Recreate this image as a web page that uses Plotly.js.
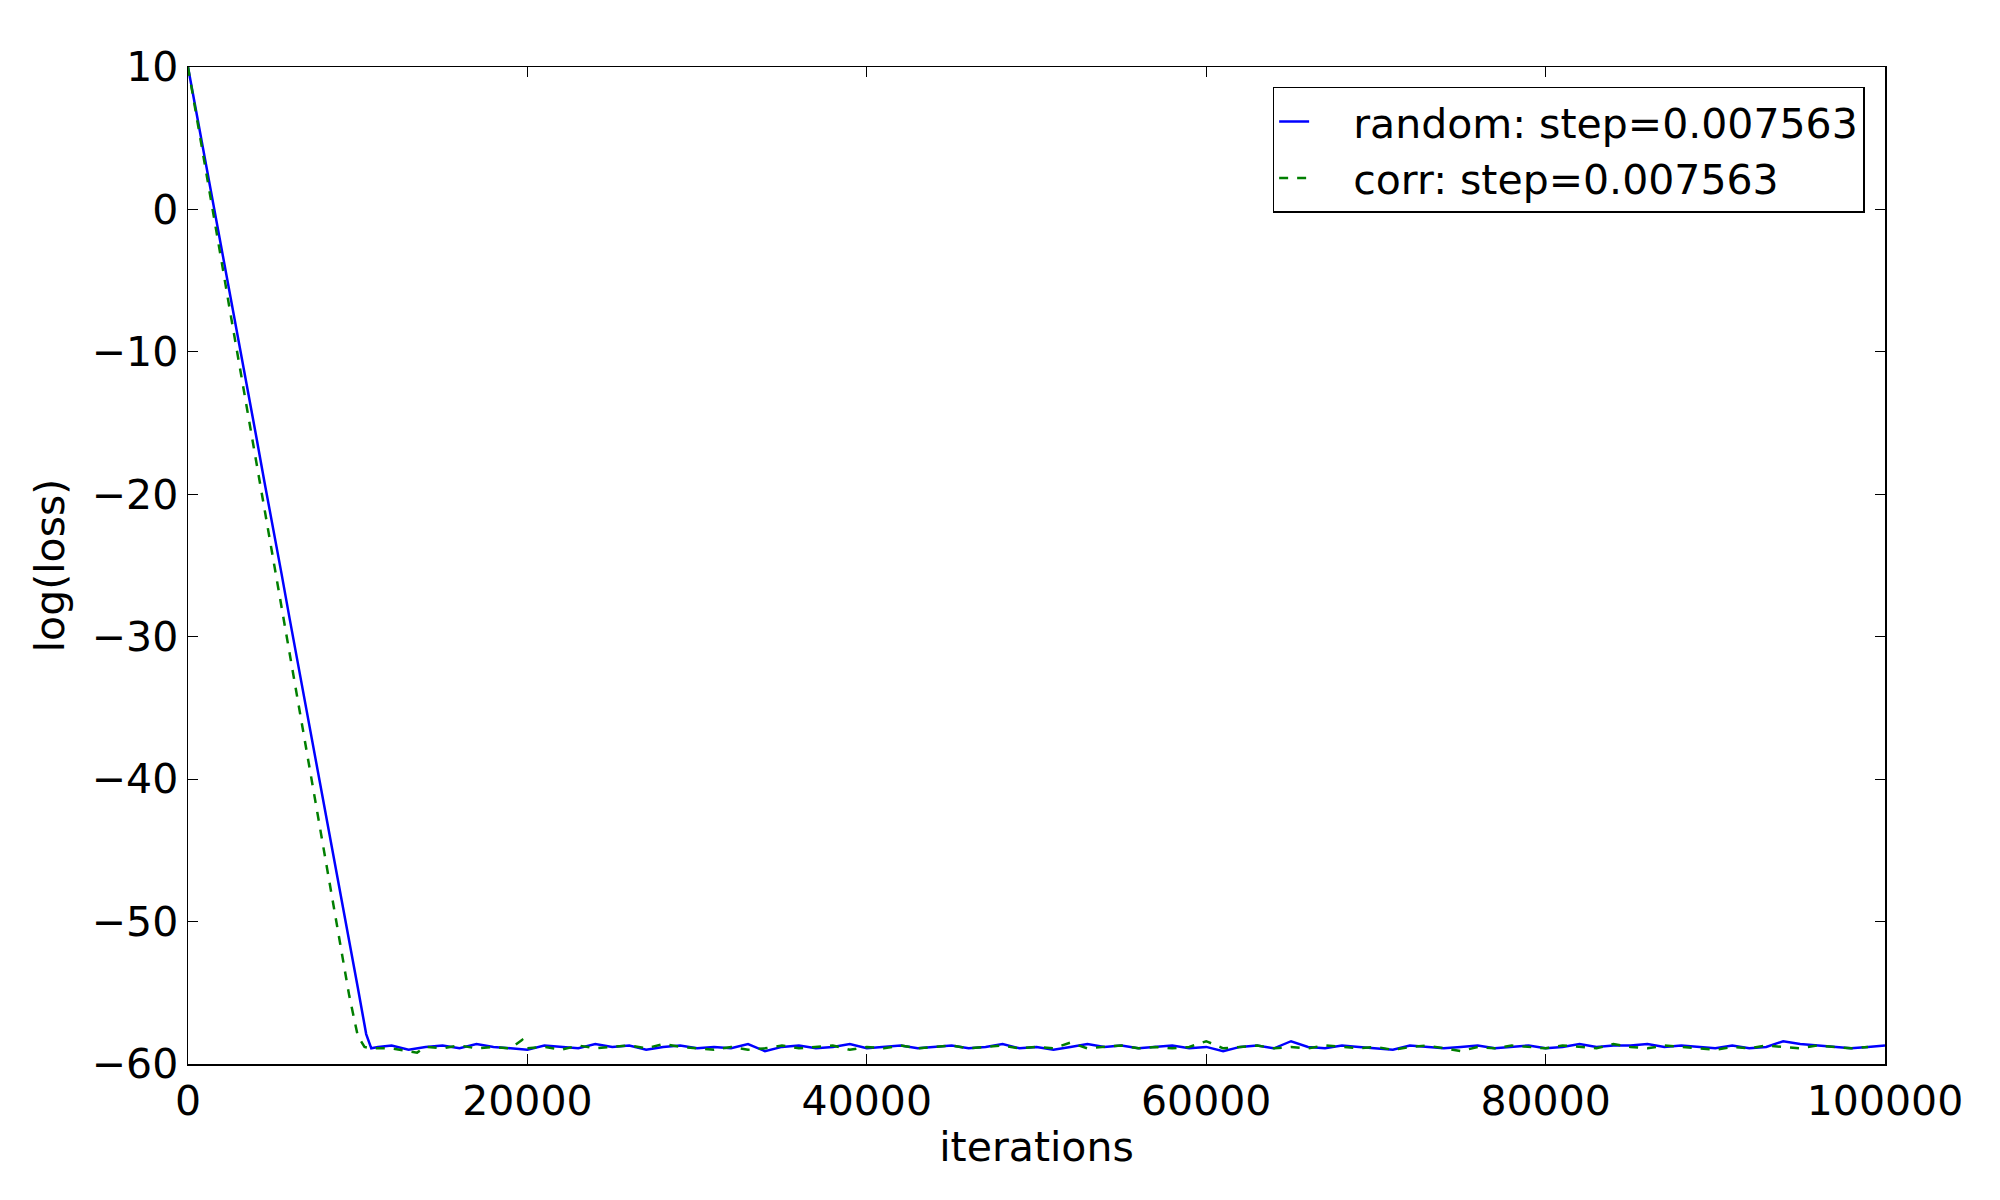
<!DOCTYPE html>
<html>
<head>
<meta charset="utf-8">
<script src="https://cdn.plot.ly/plotly-3.0.1.min.js"></script>
<style>body{margin:0;background:#fff}#plot{width:2000px;height:1200px}</style>
</head>
<body>
<div id="plot"></div>
<script>
// descent + plateau
const randomX = [0, 500, 1000, 1500, 2000, 2500, 3000, 3500, 4000, 4500, 5000, 5500, 6000, 6500, 7000, 7500, 8000, 8500, 9000, 9500, 10000, 10500, 10800, 11200,
  12000, 13000, 14000, 15000, 16000, 17000, 18000, 19000, 20000, 21000, 22000, 23000, 24000, 25000, 26000, 27000, 28000, 29000, 30000,
  31000, 32000, 33000, 34000, 35000, 36000, 37000, 38000, 39000, 40000, 41000, 42000, 43000, 44000, 45000, 46000, 47000, 48000, 49000, 50000,
  51000, 52000, 53000, 54000, 55000, 56000, 57000, 58000, 59000, 60000, 61000, 62000, 63000, 64000, 65000, 66000, 67000, 68000, 69000, 70000,
  71000, 72000, 73000, 74000, 75000, 76000, 77000, 78000, 79000, 80000, 81000, 82000, 83000, 84000, 85000, 86000, 87000, 88000, 89000, 90000,
  91000, 92000, 93000, 94000, 95000, 96000, 97000, 98000, 99000, 100000];
const randomY = [10, 6.8, 3.6, 0.2, -2.8, -6.1, -9.3, -12.6, -15.8, -19.1, -22.2, -25.5, -28.8, -32.0, -35.2, -38.6, -41.8, -45.0, -48.2, -51.4, -54.6, -57.9, -58.9, -58.8,
  -58.7, -59.0, -58.8, -58.7, -58.9, -58.6, -58.8, -58.9, -59.0, -58.7, -58.8, -58.9, -58.6, -58.8, -58.7, -59.0, -58.8, -58.7, -58.9,
  -58.8, -58.9, -58.6, -59.1, -58.8, -58.7, -58.9, -58.8, -58.6, -58.9, -58.8, -58.7, -58.9, -58.8, -58.7, -58.9, -58.8, -58.6, -58.9, -58.8,
  -59.0, -58.8, -58.6, -58.8, -58.7, -58.9, -58.8, -58.7, -58.9, -58.8, -59.1, -58.8, -58.7, -58.9, -58.4, -58.8, -58.9, -58.7, -58.8, -58.9,
  -59.0, -58.7, -58.8, -58.9, -58.8, -58.7, -58.9, -58.8, -58.7, -58.9, -58.8, -58.6, -58.8, -58.7, -58.7, -58.6, -58.8, -58.7, -58.8, -58.9,
  -58.7, -58.9, -58.8, -58.4, -58.6, -58.7, -58.8, -58.9, -58.8, -58.7];
const corrX = [0, 500, 1000, 1500, 2000, 2500, 3000, 3500, 4000, 4500, 5000, 5500, 6000, 6500, 7000, 7500, 8000, 8500, 9000, 9500, 10000, 10400, 10800,
  12000, 13000, 13500, 14000, 15000, 16000, 17000, 18000, 19000, 19700, 20000, 21000, 22000, 23000, 24000, 25000, 26000, 27000, 28000, 29000, 30000,
  31000, 32000, 33000, 34000, 35000, 36000, 37000, 38000, 39000, 40000, 41000, 42000, 43000, 44000, 45000, 46000, 47000, 48000, 49000, 50000,
  51000, 52000, 53000, 54000, 55000, 56000, 57000, 58000, 59000, 60000, 61000, 62000, 63000, 64000, 65000, 66000, 67000, 68000, 69000, 70000,
  71000, 72000, 73000, 74000, 75000, 76000, 77000, 78000, 79000, 80000, 81000, 82000, 83000, 84000, 85000, 86000, 87000, 88000, 89000, 90000,
  91000, 92000, 93000, 94000, 95000, 96000, 97000, 98000, 99000, 100000];
const corrY = [10, 6.6, 3.1, -0.4, -3.8, -7.3, -10.7, -14.1, -17.6, -21.0, -24.4, -27.9, -31.3, -34.7, -38.2, -41.6, -45.0, -48.4, -51.8, -55.2, -58.0, -58.8, -58.9,
  -58.9, -59.1, -59.2, -58.8, -58.9, -58.7, -58.9, -58.8, -58.9, -58.3, -58.9, -58.8, -59.0, -58.7, -58.9, -58.8, -58.7, -58.9, -58.6, -58.8,
  -58.9, -59.0, -58.8, -59.0, -58.9, -58.7, -58.9, -58.8, -58.7, -59.0, -58.8, -58.9, -58.7, -58.9, -58.8, -58.7, -58.9, -58.8, -58.7, -58.9,
  -58.8, -58.9, -58.5, -58.9, -58.8, -58.7, -58.9, -58.8, -58.9, -58.8, -58.4, -58.9, -58.8, -58.7, -58.9, -58.8, -58.9, -58.7, -58.8, -58.9,
  -58.8, -59.0, -58.8, -58.7, -58.9, -59.1, -58.8, -58.9, -58.7, -58.8, -58.9, -58.7, -58.8, -58.9, -58.6, -58.8, -58.9, -58.7, -58.8, -58.9,
  -59.0, -58.8, -58.9, -58.7, -58.8, -58.9, -58.7, -58.8, -58.9, -58.8];

const FONT = "DejaVu Sans, sans-serif";

const traces = [
  { x: randomX, y: randomY, mode: "lines", name: "   random: step=0.007563",
    line: { color: "#0000ff", width: 2.5 } },
  { x: corrX, y: corrY, mode: "lines", name: "   corr: step=0.007563",
    line: { color: "#007f00", width: 2.5, dash: "dash" } },
];

const axisCommon = {
  showgrid: false, zeroline: false, showline: true, mirror: "ticks",
  linecolor: "#000", linewidth: 1.5, ticks: "inside", ticklen: 10,
  tickcolor: "#000", tickfont: { family: FONT, size: 41, color: "#000" },
};

const layout = {
  width: 2000, height: 1200,
  margin: { l: 188, r: 115, t: 67, b: 136 },
  paper_bgcolor: "#fff", plot_bgcolor: "#fff",
  font: { family: FONT, color: "#000" },
  showlegend: true,
  legend: {
    x: 0.988, y: 0.98, xanchor: "right", yanchor: "top",
    bordercolor: "#000", borderwidth: 1.5, bgcolor: "#fff",
    font: { family: FONT, size: 41 }, tracegroupgap: 0,
  },
  xaxis: Object.assign({}, axisCommon, {
    range: [0, 100000], dtick: 20000, tickformat: "d",
    title: { text: "iterations", font: { family: FONT, size: 41 }, standoff: 8 },
  }),
  yaxis: Object.assign({}, axisCommon, {
    range: [-60, 10], dtick: 10,
    title: { text: "log(loss)", font: { family: FONT, size: 41 }, standoff: 14 },
  }),
};

Plotly.newPlot("plot", traces, layout, { staticPlot: true });
</script>
</body>
</html>
